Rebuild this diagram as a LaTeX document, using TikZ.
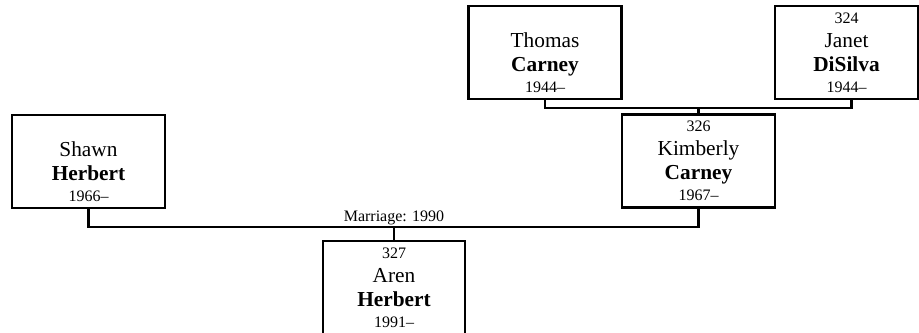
\documentclass[tikz,border=0pt]{standalone}
\usepackage{fontspec}
\setmainfont{Liberation Serif}
\newcommand{\smalltext}[1]{{\fontsize{12}{14}\selectfont #1}}

\begin{document}
\begin{tikzpicture}[
    x=0.75pt, y=-0.75pt,
    font=\fontsize{16}{18}\selectfont,
    person/.style={draw=black, line width=1.6pt, fill=white,
                   minimum width=114.75pt, minimum height=69.75pt,
                   align=center, inner sep=0pt},
    link/.style={draw=black, line width=1.6pt},
    lab/.style={font=\fontsize{12}{14}\selectfont, inner sep=1pt}
]
    \useasboundingbox (0,0) rectangle (919,332);

    % parents of Kimberly
    \node[person] (Thomas) at (545,52.5)
        {\smalltext{\phantom{0}}\\Thomas\\\textbf{Carney}\\[-2pt]\smalltext{1944--}};
    \node[person, minimum width=107.25pt] (Janet) at (846.5,52.5)
        {\smalltext{324}\\Janet\\\textbf{DiSilva}\\[-2pt]\smalltext{1944--}};

    % couple
    \node[person] (Shawn) at (88.5,161.5)
        {\smalltext{\phantom{0}}\\Shawn\\\textbf{Herbert}\\[-2pt]\smalltext{1966--}};
    \node[person] (Kimberly) at (698.5,161)
        {\smalltext{326}\\Kimberly\\\textbf{Carney}\\[-2pt]\smalltext{1967--}};

    % child
    \node[person, minimum width=106.5pt] (Aren) at (394,287.5)
        {\smalltext{327}\\Aren\\\textbf{Herbert}\\[-2pt]\smalltext{1991--}};

    \coordinate (parents) at (698.5,107);
    \coordinate (marriage) at (394,227);

    \draw[link] (Thomas.south) -- ++(0,8) -| ([xshift=3.75pt]Janet.south);
    \draw[link] (parents) -- (Kimberly.north);

    \draw[link] (Shawn.south) |- (marriage) -| (Kimberly.south);
    \draw[link] (marriage) -- (Aren.north);
    \node[lab, above] (marrlabel) at (marriage) {Marriage: 1990};
\end{tikzpicture}
\end{document}
